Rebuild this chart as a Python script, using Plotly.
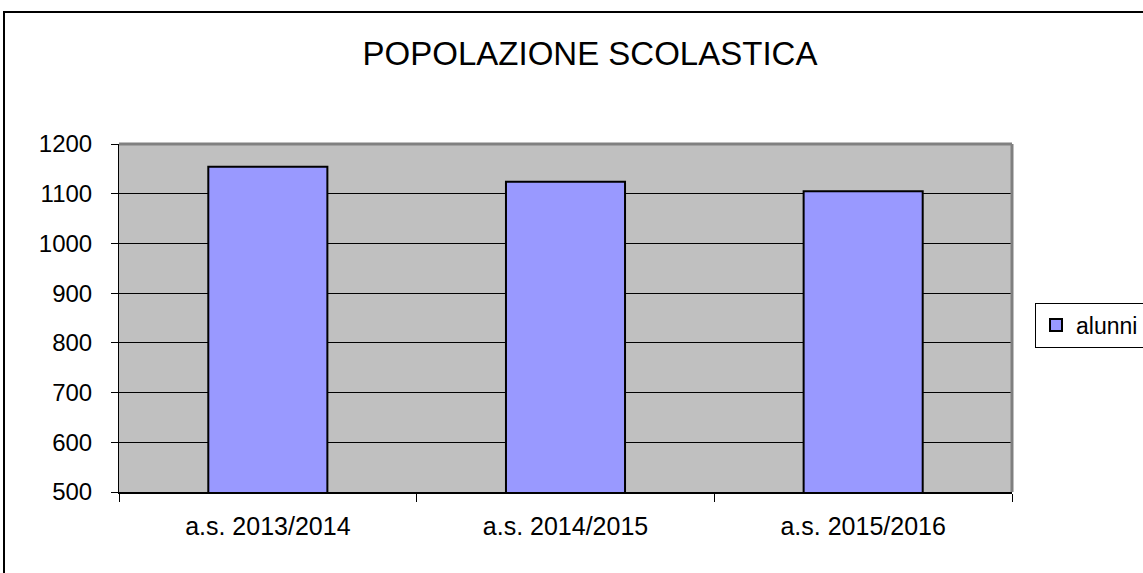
import plotly.graph_objects as go

categories = ["a.s. 2013/2014", "a.s. 2014/2015", "a.s. 2015/2016"]
alunni = [1154, 1124, 1105]
series_name = "alunni"
title_text = "POPOLAZIONE SCOLASTICA"

W, H = 1143, 573
L, R, T, B = 119, 1012, 144, 492
pw, ph = R - L, B - T

def px_x(x):
    return (x - L) / pw

def px_y(y):
    return (B - y) / ph

fig = go.Figure()
fig.add_trace(go.Bar(
    x=categories, y=alunni, name=series_name,
    marker=dict(color="#9999FF", line=dict(color="black", width=2)),
    showlegend=True,
))

font_family = "Arial, Liberation Sans, sans-serif"

fig.update_layout(
    width=W, height=H,
    margin=dict(l=L, r=W - R, t=T, b=H - B, pad=0, autoexpand=False),
    paper_bgcolor="white",
    plot_bgcolor="#C0C0C0",
    bargap=0.6,
    font=dict(family=font_family, color="black"),
    title=dict(text=title_text, x=590 / W, xref="container", xanchor="center",
               y=1 - 53 / H, yref="container", yanchor="middle",
               font=dict(size=33, family=font_family, color="black")),
    showlegend=True,
    legend=dict(xref="container", yref="container",
                x=1035 / W, xanchor="left", y=1 - 325 / H, yanchor="middle",
                bgcolor="white", bordercolor="black", borderwidth=1,
                font=dict(size=23, family=font_family, color="black"),
                itemwidth=30),
    xaxis=dict(showgrid=False, showline=True, linecolor="black", linewidth=2,
               ticks="outside", tickson="boundaries", ticklen=8, tickcolor="black",
               tickwidth=1, tickfont=dict(size=25), ticklabelstandoff=11),
    yaxis=dict(range=[500, 1200], dtick=100, tick0=500, showgrid=True,
               gridcolor="black", gridwidth=1, showline=True, linecolor="black",
               linewidth=1, ticks="outside", ticklen=7, tickcolor="black",
               tickfont=dict(size=24), zeroline=False, ticklabelstandoff=14),
    shapes=[
        dict(type="line", xref="paper", yref="paper", x0=0, x1=1, y0=1, y1=1,
             line=dict(color="#808080", width=3), layer="above"),
        dict(type="line", xref="paper", yref="paper", x0=1, x1=1, y0=0, y1=1,
             line=dict(color="#808080", width=3), layer="above"),
        dict(type="rect", xref="paper", yref="paper",
             x0=px_x(4), x1=px_x(1160), y0=px_y(590), y1=px_y(12),
             line=dict(color="black", width=2), fillcolor="rgba(0,0,0,0)",
             layer="above"),
    ],
)

fig.write_html(
    "out.html",
    config={"displayModeBar": False},
    post_script="document.body.style.margin='0';document.body.style.overflow='hidden';document.documentElement.style.overflow='hidden';",
)
